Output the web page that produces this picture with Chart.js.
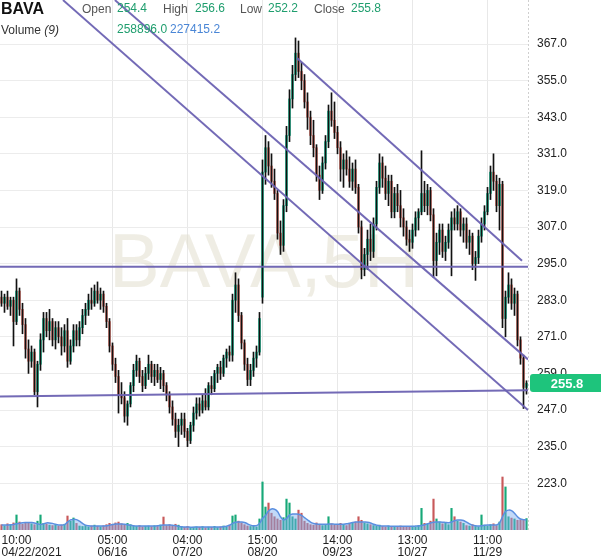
<!DOCTYPE html>
<html>
<head>
<meta charset="utf-8">
<script src="https://cdn.jsdelivr.net/npm/chart.js@4.4.1/dist/chart.umd.min.js"></script>
<style>
  body { margin:0; background:#fff; font-family:"Liberation Sans", Arial, sans-serif; }
  #wrap { position:relative; width:601px; height:558px; }
  #hdr span { position:absolute; font-size:12px; white-space:nowrap; line-height:14px; }
  #hdr .lbl { color:#555; }
  #hdr .up { color:#1f9e6e; }
  #hdr .ma { color:#4a86d6; }
</style>
</head>
<body>
<div id="wrap">
  <canvas id="c" width="601" height="558"></canvas>
  <div id="hdr">
    <span style="left:1px;top:1px;font-size:16px;font-weight:bold;color:#111;line-height:16px">BAVA</span>
    <span class="lbl" style="left:82px;top:2px">Open</span>
    <span class="up" style="left:117px;top:1px">254.4</span>
    <span class="lbl" style="left:163px;top:2px">High</span>
    <span class="up" style="left:195px;top:1px">256.6</span>
    <span class="lbl" style="left:240px;top:2px">Low</span>
    <span class="up" style="left:268px;top:1px">252.2</span>
    <span class="lbl" style="left:314px;top:2px">Close</span>
    <span class="up" style="left:351px;top:1px">255.8</span>
    <span style="left:1px;top:23px;color:#333">Volume <i>(9)</i></span>
    <span class="up" style="left:117px;top:22px">258896.0</span>
    <span class="ma" style="left:170px;top:22px">227415.2</span>
  </div>
</div>
<script>
// candles, one per slot (index 0..175)
const opens = [284,282,284,281,283,276,286,280,275,267,263,266,253,262,270,277,273,276,270,274,
  271,268,273,263,268,273,270,274,278,280,283,282,286,283,285,281,276,268,262,258,
  252,251,245,249,255,260,263,258,255,259,262,258,260,257,259,255,252,248,244,240,
  242,244,240,237,242,246,249,247,250,248,255,254,259,261,259,264,266,265,283,288,
  278,269,262,257,260,264,266,284,325,333,327,322,318,305,301,314,337,349,357,364,
  358,355,348,343,337,333,324,319,328,335,345,342,338,333,326,329,326,322,326,320,
  307,293,298,303,299,308,320,328,323,318,322,312,318,314,310,307,303,302,306,310,
  312,318,314,319,311,296,302,306,299,302,306,310,308,312,306,308,302,304,295,297,
  304,308,312,318,325,322,314,321,277,284,288,282,285,270,264,254.4];
const highs = [286,285,286,284,284,290,287,282,277,270,268,267,263,272,279,279,280,277,276,276,
  274,275,277,270,275,275,276,280,282,285,287,288,289,287,286,282,277,269,264,260,
  256,253,250,256,262,265,264,260,261,265,263,262,262,261,260,256,253,250,246,244,
  246,246,241,243,248,251,251,252,254,256,258,260,262,263,265,267,268,285,292,290,
  279,270,264,262,266,268,279,329,337,335,331,326,319,309,316,340,352,360,369,368,
  361,357,351,345,342,334,327,330,337,347,351,348,340,335,331,332,330,328,329,321,
  309,300,306,308,310,322,331,330,327,324,324,320,321,319,313,309,306,308,312,313,
  332,322,321,320,313,305,308,308,304,308,312,313,314,313,310,310,306,305,299,306,
  310,314,320,327,331,324,323,322,286,292,290,287,286,271,265,256.6];
const lows = [281,279,280,278,268,275,278,272,264,259,261,252,248,260,266,271,270,268,267,269,
  265,266,261,262,266,268,268,272,275,278,280,281,282,280,279,274,266,260,256,246,
  249,243,242,248,253,258,256,253,254,257,256,255,256,254,253,250,246,242,238,235,
  239,238,235,236,240,244,245,246,247,247,252,253,256,257,258,261,263,263,279,276,
  267,260,255,255,258,261,265,282,321,324,320,316,303,298,299,312,335,346,355,356,
  352,346,339,334,330,322,316,318,326,333,340,336,331,322,320,324,320,319,318,305,
  290,291,293,296,297,306,318,320,316,314,310,310,312,307,304,301,299,300,304,306,
  311,312,311,309,290.5,291,298,297,296,300,291,306,306,304,302,300,298,293,289.5,295,
  302,306,311,316,319,312,306,274,271,282,280,278,268,262,247.5,252.2];
const closes = [282,284,281,283,276,286,280,275,267,263,266,253,262,270,277,273,276,270,274,271,
  268,273,263,268,273,270,274,278,280,283,282,286,283,285,281,276,268,262,258,252,
  251,245,249,255,260,263,258,255,259,262,258,260,257,259,255,252,248,244,240,242,
  244,240,237,242,246,249,247,250,248,255,254,259,261,259,264,266,265,283,288,278,
  269,262,257,260,264,266,277,325,333,327,322,318,305,301,314,337,349,357,364,358,
  355,348,343,337,333,324,319,328,335,345,342,338,333,326,329,326,322,326,320,307,
  293,298,303,299,308,320,328,323,318,322,312,318,314,310,307,303,302,306,310,312,
  318,314,319,311,296,302,306,299,302,306,310,308,312,306,308,302,304,295,297,304,
  308,312,318,325,322,314,321,277,284,288,282,285,270,264,254.4,255.8];
// volume in thousands, and its 9-period average
const volumes = [120,95,140,110,160,340,180,130,150,170, 140,120,200,340,150,130,110,100,120,90,
  110,130,317,200,272,150,90,80,100,70, 90,110,85,70,95,120,150,130,160,180,
  140,110,150,120,90,80,100,70,85,90, 75,95,80,110,294,100,120,90,130,110,
  70,60,80,55,65,70,60,75,50,65, 60,80,55,70,90,65,110,317,340,200,
  160,120,90,80,100,70,250,1087,520,611, 380,300,250,220,280,700,611,300,250,450,
  380,200,150,120,110,160,130,100,120,300, 140,110,130,150,120,100,140,160,180,300,
  220,160,140,120,100,90,110,80,70,90, 60,80,70,90,65,75,60,85,70,100,
  490,150,130,200,700,250,180,140,160,120, 490,300,200,180,150,100,90,120,80,70,
  340,110,90,120,140,100,180,1200,975,300, 270,250,220,230,240,258.896];
const volAvg = [113,113,115,118,125,140,155,165,170,170, 168,160,140,125,140,160,160,150,130,115,
  113,120,180,230,240,235,200,150,110,95, 90,88,88,90,92,95,110,125,135,136,
  136,130,120,105,95,90,90,88,88,90, 90,92,95,105,113,113,113,110,100,85,
  72,68,66,65,65,66,66,67,68,68, 68,68,68,70,75,85,110,150,175,180,
  180,170,140,110,95,100,150,260,330,430, 475,470,420,300,230,260,340,360,360,355,
  330,280,230,180,150,135,130,128,130,135, 135,132,130,130,132,140,155,170,180,182,
  182,180,175,160,130,110,95,90,88,88, 86,85,84,84,85,85,86,86,88,90,
  100,120,140,160,175,180,180,178,170,165, 180,210,227,227,215,180,140,110,95,90,
  95,105,112,113,113,115,160,300,420,450, 440,380,300,250,235,227.4152];

const timeTicks = [0, 37, 62, 87, 112, 137, 162, 175.5];
const timeLabels = [['10:00','04/22/2021'], ['05:00','06/16'], ['04:00','07/20'], ['15:00','08/20'],
  ['14:00','09/23'], ['13:00','10/27'], ['11:00','11/29'], ''];
const priceTicks = [223, 235, 247, 259, 271, 283, 295, 307, 319, 331, 343, 355, 367];

// drawn trend lines: [startIndex, startPrice, endIndex, endPrice]
const trendLines = [
  [20.5, 381.4, 175.5, 247.0],
  [37.8, 381.4, 175.5, 263.6],
  [98.5, 362.4, 173.5, 295.9],
  [-0.5, 294.0, 175.5, 294.0],
  [-0.5, 251.4, 175.5, 253.5]
];

const UP = '#22c49c', DOWN = '#e57d72';
const idx = closes.map((_, i) => i);
const isUp = i => closes[i] >= opens[i];
const FONT = '"Liberation Sans", Arial, sans-serif';

const overlay = {
  id: 'overlay',
  beforeDatasetsDraw(chart) {
    const {ctx, chartArea: a} = chart;
    ctx.save();
    ctx.font = '76px ' + FONT;
    ctx.textAlign = 'center';
    ctx.fillStyle = 'rgba(226,223,205,0.55)';
    ctx.fillText('BAVA,5H', (a.left + a.right) / 2, 287);
    ctx.strokeStyle = '#cfcfcf';
    ctx.lineWidth = 1;
    ctx.setLineDash([2, 2]);
    ctx.beginPath();
    ctx.moveTo(a.right + 0.5, a.top);
    ctx.lineTo(a.right + 0.5, a.bottom);
    ctx.stroke();
    ctx.restore();
  },
  afterDraw(chart) {
    const {ctx, chartArea: a} = chart;
    const last = closes[closes.length - 1];
    const y = Math.round(chart.scales.y.getPixelForValue(last));
    ctx.save();
    ctx.fillStyle = '#1ec47c';
    ctx.beginPath();
    ctx.roundRect(a.right + 2, y - 9, chart.width - a.right - 2, 18, [3, 0, 0, 3]);
    ctx.fill();
    ctx.fillStyle = '#fff';
    ctx.font = 'bold 13px ' + FONT;
    ctx.textAlign = 'center';
    ctx.textBaseline = 'middle';
    ctx.fillText(last.toFixed(1), 567, y + 1);
    ctx.restore();
  }
};

const datasets = [];
trendLines.forEach(t => datasets.push({
  type: 'line', data: [{x: t[0], y: t[1]}, {x: t[2], y: t[3]}],
  borderColor: 'rgba(108,98,178,0.95)', borderWidth: 2, pointRadius: 0, yAxisID: 'y', order: 0
}));
datasets.push({
  type: 'bar', data: idx.map(i => ({x: i, y: [lows[i], highs[i]]})),
  backgroundColor: '#111', barThickness: 1, grouped: false, yAxisID: 'y', order: 1
});
datasets.push({
  type: 'bar', data: idx.map(i => ({x: i, y: [opens[i], closes[i]]})),
  backgroundColor: idx.map(i => isUp(i) ? UP : DOWN), barThickness: 2, grouped: false, yAxisID: 'y', order: 2
});
datasets.push({
  type: 'line', data: idx.map(i => ({x: i, y: volAvg[i] * 1000})),
  borderColor: '#5b8fe0', borderWidth: 1.5, backgroundColor: 'rgba(120,170,240,0.45)',
  fill: 'origin', tension: 0.4, pointRadius: 0, yAxisID: 'v', order: 3
});
datasets.push({
  type: 'bar', data: idx.map(i => ({x: i, y: volumes[i] * 1000})),
  backgroundColor: idx.map(i => isUp(i) ? '#17a878' : '#c8595a'), barThickness: 1.5, grouped: false, yAxisID: 'v', order: 4
});

new Chart(document.getElementById('c'), {
  type: 'bar',
  data: { datasets },
  plugins: [overlay],
  options: {
    responsive: false,
    animation: false,
    events: [],
    layout: { padding: 0, autoPadding: false },
    plugins: { legend: { display: false }, tooltip: { enabled: false } },
    scales: {
      x: {
        type: 'linear', position: 'bottom', min: -0.5, max: 175.5, offset: false,
        afterBuildTicks: s => { s.ticks = timeTicks.map(v => ({value: v})); },
        afterFit: s => { s.height = 28; s.paddingLeft = 0; s.paddingRight = 0; },
        grid: { offset: false, color: c => (c.index === 0 || c.index === timeTicks.length - 1) ? 'rgba(0,0,0,0)' : '#e8e8e8', drawTicks: false },
        border: { display: false },
        ticks: {
          autoSkip: false, maxRotation: 0, align: 'inner', padding: 5, color: '#222',
          font: { size: 12, family: FONT, lineHeight: 1.0 },
          callback: (v, i) => timeLabels[i]
        }
      },
      y: {
        type: 'linear', position: 'right', min: 207.66, max: 381.43,
        afterBuildTicks: s => { s.ticks = priceTicks.map(v => ({value: v})); },
        afterFit: s => { s.width = 73; s.paddingTop = 0; s.paddingBottom = 0; },
        grid: { color: '#ececec', drawTicks: false },
        border: { display: false },
        ticks: { padding: 9, color: '#222', font: { size: 12, family: FONT }, callback: v => v.toFixed(1) }
      },
      v: { type: 'linear', display: false, min: 0, max: 12000000 }
    }
  }
});
</script>
</body>
</html>
